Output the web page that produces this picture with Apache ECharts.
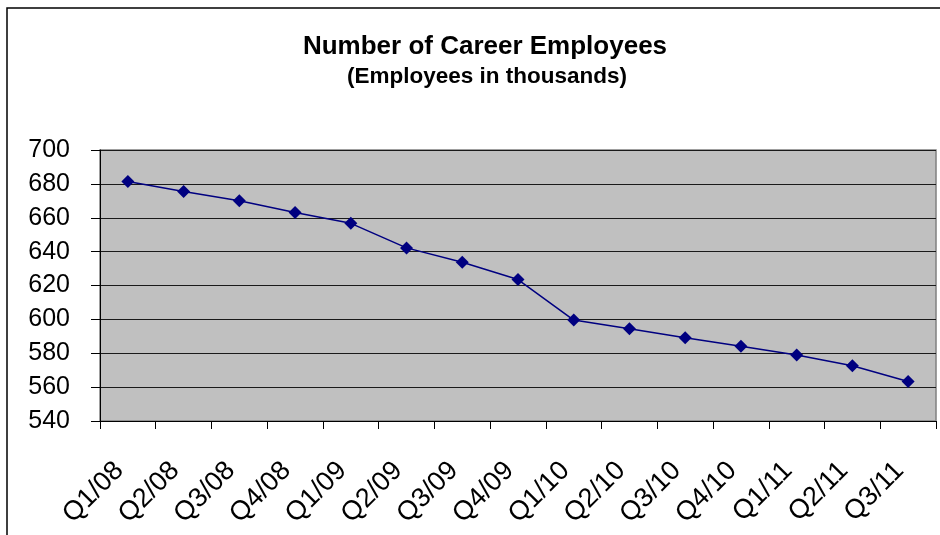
<!DOCTYPE html>
<html>
<head>
<meta charset="utf-8">
<script src="https://cdn.jsdelivr.net/npm/echarts@6/dist/echarts.min.js"></script>
<style>
  html, body { margin: 0; padding: 0; background: #fff; }
  #chart { width: 940px; height: 535px; }
</style>
</head>
<body>
<div id="chart"></div>
<script>
var quarters = ['Q1/08', 'Q2/08', 'Q3/08', 'Q4/08', 'Q1/09', 'Q2/09', 'Q3/09', 'Q4/09',
  'Q1/10', 'Q2/10', 'Q3/10', 'Q4/10', 'Q1/11', 'Q2/11', 'Q3/11'];
var employees = [681.4, 675.5, 670, 663.1, 656.7, 642.2, 633.7, 623.5,
  599.6, 594.5, 589.2, 584.2, 579, 572.6, 563.3];
var yTicks = { min: 540, max: 700, step: 20 };

var font = 'Liberation Sans';
var chart = echarts.init(document.getElementById('chart'));
chart.setOption({
  backgroundColor: '#fff',
  animation: false,
  title: [{
    text: 'Number of Career Employees',
    left: 480, top: 29, textAlign: 'center',
    textStyle: { fontFamily: font, fontWeight: 'bold', fontSize: 26, color: '#000' }
  }, {
    text: '(Employees in thousands)',
    left: 482, top: 60, textAlign: 'center',
    textStyle: { fontFamily: font, fontWeight: 'bold', fontSize: 22.5, color: '#000' }
  }],
  graphic: [{
    type: 'rect', shape: { x: 7, y: 8, width: 1000, height: 1000 },
    style: { fill: 'none', stroke: '#000', lineWidth: 1.5 }, silent: true
  }],
  grid: {
    left: 100, right: 4, top: 150, bottom: 114,
    show: true, backgroundColor: '#c0c0c0', borderColor: '#808080', borderWidth: 1.5
  },
  xAxis: {
    type: 'category', data: quarters, boundaryGap: true,
    axisLine: { lineStyle: { color: '#000', width: 1 } },
    axisTick: { show: true, length: 8, interval: 0, lineStyle: { color: '#000' } },
    axisLabel: { rotate: 45, interval: 0, margin: 37, padding: [0, 12, 0, 0],
      color: '#000', fontFamily: font, fontSize: 27 }
  },
  yAxis: {
    type: 'value', min: yTicks.min, max: yTicks.max, interval: yTicks.step,
    axisLine: { show: true, lineStyle: { color: '#000', width: 1 } },
    axisTick: { show: true, length: 9, lineStyle: { color: '#000' } },
    axisLabel: { margin: 30, color: '#000', fontFamily: font, fontSize: 25 },
    splitLine: { lineStyle: { color: '#1a1a1a', width: 1 } }
  },
  series: [{
    type: 'line', data: employees,
    symbol: 'diamond', symbolSize: 13,
    lineStyle: { color: '#000080', width: 1.5 },
    itemStyle: { color: '#000080' }
  }]
});
</script>
</body>
</html>
